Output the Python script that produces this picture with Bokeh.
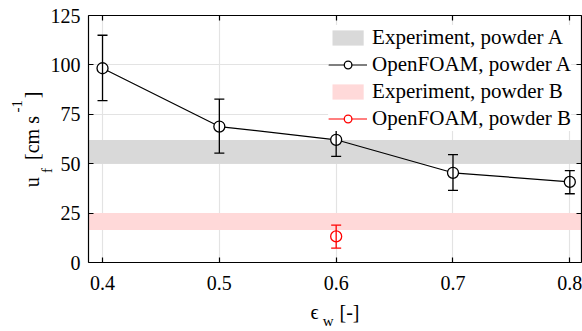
from bokeh.plotting import figure
from bokeh.models import (ColumnDataSource, Whisker, TeeHead, LinearAxis, Legend,
                          LegendItem, Range1d, FixedTicker)
from bokeh.embed import file_html
from bokeh.resources import INLINE

# ---- data ----
eps_w = [0.4, 0.5, 0.6, 0.7, 0.8]
uf_A = [98.3, 68.8, 62.1, 45.4, 40.8]
uf_A_upper = [115.0, 82.7, 70.5, 54.6, 46.5]
uf_A_lower = [81.9, 55.4, 53.7, 36.5, 34.8]

eps_w_B = [0.6]
uf_B = [13.2]
uf_B_upper = [18.9]
uf_B_lower = [7.3]

exp_A_band = [50.0, 62.0]
exp_B_band = [16.5, 25.0]

x_ticks = [0.4, 0.5, 0.6, 0.7, 0.8]
y_ticks = [0, 25, 50, 75, 100, 125]
x_lim = [0.388, 0.81]
y_lim = [0, 125]

FONT = "Liberation Serif"

p = figure(width=582, height=331, x_range=Range1d(*x_lim), y_range=Range1d(*y_lim),
           output_backend="svg", toolbar_location=None,
           min_border_left=88, min_border_top=15, min_border_bottom=68, min_border_right=1)
p.outline_line_color = None
p.background_fill_color = "white"


def style_main(ax, ticks, standoff):
    ax.ticker = FixedTicker(ticks=ticks)
    ax.major_tick_in = 5
    ax.major_tick_out = 0
    ax.minor_tick_line_color = None
    ax.axis_line_color = "black"
    ax.axis_line_width = 1.2
    ax.major_tick_line_color = "black"
    ax.major_tick_line_width = 1.2
    ax.major_label_text_font = FONT
    ax.major_label_text_font_size = "20px"
    ax.major_label_text_color = "black"
    ax.major_label_standoff = standoff


style_main(p.xaxis[0], x_ticks, 13)
style_main(p.yaxis[0], y_ticks, 8)

# box ticks on top and right (no labels)
top_ax = LinearAxis(ticker=FixedTicker(ticks=x_ticks))
right_ax = LinearAxis(ticker=FixedTicker(ticks=y_ticks))
for ax in (top_ax, right_ax):
    ax.major_tick_in = 5
    ax.major_tick_out = 0
    ax.minor_tick_line_color = None
    ax.axis_line_color = "black"
    ax.axis_line_width = 1.2
    ax.major_tick_line_color = "black"
    ax.major_tick_line_width = 1.2
    ax.major_label_text_font_size = "1px"
    ax.major_label_text_color = None
    ax.major_label_standoff = 0
p.add_layout(top_ax, "above")
p.add_layout(right_ax, "right")


# axis titles with sub/superscripts, built from label-only axes
def text_axis(pos_labels, size, standoff, vertical):
    ax = LinearAxis(ticker=FixedTicker(ticks=list(pos_labels.keys())),
                    major_label_overrides=dict(pos_labels))
    ax.axis_line_color = None
    ax.major_tick_line_color = None
    ax.minor_tick_line_color = None
    ax.major_tick_in = 0
    ax.major_tick_out = 0
    ax.major_label_text_font = FONT
    ax.major_label_text_font_size = size
    ax.major_label_text_color = "black"
    ax.major_label_standoff = standoff
    if vertical:
        ax.major_label_orientation = "vertical"
    return ax


# y title: u_f [cm s^-1]  (stacked outward from the frame)
p.add_layout(text_axis({46.6: "f"}, "15px", -8, True), "left")
p.add_layout(text_axis({40.6: "u", 63.0: "[cm s", 84.8: "]"}, "20px", -7, True), "left")
p.add_layout(text_axis({79.1: "-1"}, "15px", -4, True), "left")
# x title: eps_w [-]
p.add_layout(text_axis({0.5815: "\u03f5", 0.6114: "[-]"}, "20px", 8, False), "below")
p.add_layout(text_axis({0.5932: "w"}, "15px", -13, False), "below")

# grid
p.xgrid.ticker = FixedTicker(ticks=x_ticks)
p.ygrid.ticker = FixedTicker(ticks=y_ticks)
p.xgrid.grid_line_color = "#e3e3e3"
p.ygrid.grid_line_color = "#e3e3e3"
p.xgrid.grid_line_width = 1.2
p.ygrid.grid_line_width = 1.2

# experimental bands
qA = p.quad(left=[x_lim[0]], right=[x_lim[1]], bottom=[exp_A_band[0]], top=[exp_A_band[1]],
            fill_color="#d9d9d9", line_color=None)
qB = p.quad(left=[x_lim[0]], right=[x_lim[1]], bottom=[exp_B_band[0]], top=[exp_B_band[1]],
            fill_color="#ffd9d9", line_color=None)

srcA = ColumnDataSource(dict(x=eps_w, y=uf_A, upper=uf_A_upper, lower=uf_A_lower))
srcB = ColumnDataSource(dict(x=eps_w_B, y=uf_B, upper=uf_B_upper, lower=uf_B_lower))

for src, col in ((srcA, "black"), (srcB, "red")):
    w = Whisker(source=src, base="x", upper="upper", lower="lower",
                line_color=col, line_width=1.3, level="glyph",
                upper_head=TeeHead(size=10, line_color=col, line_width=1.3),
                lower_head=TeeHead(size=10, line_color=col, line_width=1.3))
    p.add_layout(w)

lA = p.line("x", "y", source=srcA, line_color="black", line_width=1.2)
sA = p.scatter("x", "y", source=srcA, size=11, fill_color="white", line_color="black", line_width=1.3)
lB = p.line("x", "y", source=srcB, line_color="red", line_width=1.2)
sB = p.scatter("x", "y", source=srcB, size=11, fill_color="white", line_color="red", line_width=1.3)

legend = Legend(items=[
    LegendItem(label="Experiment, powder A", renderers=[qA]),
    LegendItem(label="OpenFOAM, powder A", renderers=[lA, sA]),
    LegendItem(label="Experiment, powder B", renderers=[qB]),
    LegendItem(label="OpenFOAM, powder B", renderers=[lB, sB]),
], location="top_right")
legend.margin = 10
legend.padding = 4
legend.spacing = 2
legend.glyph_width = 39
legend.glyph_height = 19
legend.label_standoff = 5
legend.label_text_font = FONT
legend.label_text_font_size = "21px"
legend.label_text_color = "black"
legend.border_line_color = None
legend.background_fill_color = "white"
legend.background_fill_alpha = 1.0
p.add_layout(legend)

open("out.html", "w").write(file_html(p, INLINE))
